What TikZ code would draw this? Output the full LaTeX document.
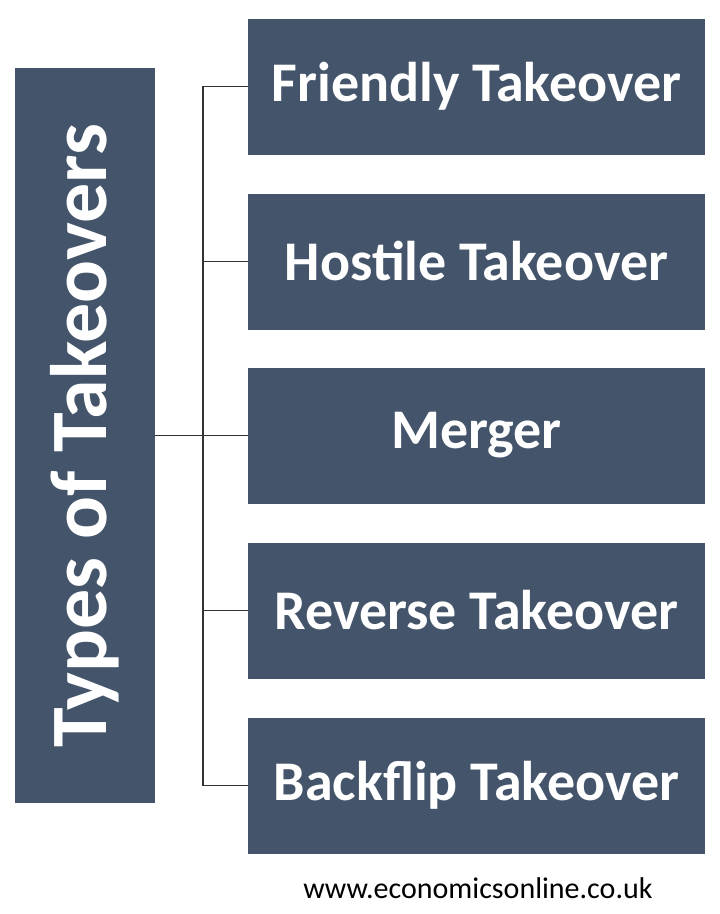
\documentclass[tikz,border=0pt]{standalone}
\usepackage{fontspec}
\setmainfont{Carlito}
\definecolor{slate}{HTML}{44546A}
\begin{document}
\begin{tikzpicture}[x=1pt,y=-1pt,
  kind/.style={fill=slate,text=white,inner sep=0pt,minimum width=457pt,minimum height=136pt,font=\fontsize{56}{60}\selectfont\bfseries},
  link/.style={draw=black!80,line width=1.2pt}]
\useasboundingbox (0,0) rectangle (720,914);
\def\bx{476.5}
\node[fill=slate,minimum width=140pt,minimum height=735pt,inner sep=0pt] (T) at (85,435.5) {};
\node[rotate=90,text=white,font=\fontsize{80}{84}\selectfont\bfseries] (Tl) at (T.center) {Types of Takeovers};

\node[kind] (F) at (\bx,86.5) {Friendly Takeover};
\node[kind] (H) at (\bx,261.5) {Hostile Takeover};
\node[kind] (M) at (\bx,435.5) {Merger};
\node[kind] (R) at (\bx,610.5) {Reverse Takeover};
\node[kind] (B) at (\bx,785.5) {Backflip Takeover};

\coordinate (J) at (203,435.5);
\draw[link] (T.east) -- (J);
\draw[link] (F.west) -| (J) |- (B.west);
\foreach \k in {H,M,R}
  \draw[link] (J |- \k.west) -- (\k.west);

\node[font=\fontsize{30}{34}\selectfont] (W) at (478,888) {www.economicsonline.co.uk};
\end{tikzpicture}
\end{document}
